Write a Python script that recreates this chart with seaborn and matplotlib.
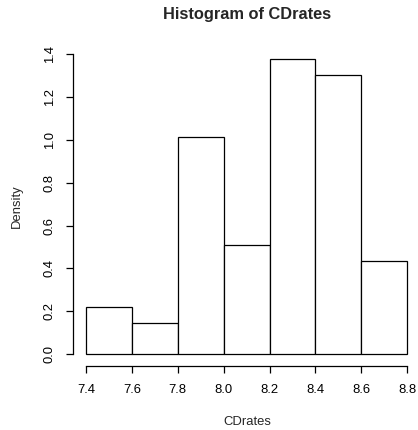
import matplotlib
matplotlib.use("Agg")
import matplotlib.pyplot as plt
import seaborn as sns
import numpy as np

# Histogram bins of CDrates (n = 69) and counts per bin
bin_edges = [7.4, 7.6, 7.8, 8.0, 8.2, 8.4, 8.6, 8.8]
bin_counts = [3, 2, 14, 7, 19, 18, 6]
x_ticks = [7.4, 7.6, 7.8, 8.0, 8.2, 8.4, 8.6, 8.8]
y_ticks = [0.0, 0.2, 0.4, 0.6, 0.8, 1.0, 1.2, 1.4]

sns.set_style("white")
plt.rcParams["font.family"] = ["Liberation Sans", "DejaVu Sans"]

W, H = 418, 430
fig = plt.figure(figsize=(W / 100, H / 100), dpi=100)

# axes placed in pixel terms to mimic R's plot region
left_px, right_px = 73.1, 415.0
top_px, bottom_px = 47.4, 365.8
ax = fig.add_axes([left_px / W, 1 - bottom_px / H,
                   (right_px - left_px) / W, (bottom_px - top_px) / H])

mids = [(a + b) / 2 for a, b in zip(bin_edges[:-1], bin_edges[1:])]
sns.histplot(x=mids, weights=bin_counts, bins=bin_edges, stat="density",
             color="white", edgecolor="black", linewidth=0.9, alpha=1,
             ax=ax)

ax.set_xlim(7.344, 7.344 + (right_px - left_px) / 229.5)
ax.set_ylim(-0.055, 1.432)

ax.set_xticks(x_ticks)
ax.set_xticklabels([f"{v:.1f}" for v in x_ticks])
ax.set_yticks(y_ticks)
ax.set_yticklabels([f"{v:.1f}" for v in y_ticks], rotation=90, va="center")

for s in ["top", "right"]:
    ax.spines[s].set_visible(False)
ax.spines["left"].set_bounds(0, 1.4)
ax.spines["bottom"].set_bounds(7.4, 8.8)
for s in ["left", "bottom"]:
    ax.spines[s].set_color("black")
    ax.spines[s].set_linewidth(0.9)

ax.tick_params(axis="both", direction="out", length=5, width=0.9,
               color="black", labelsize=9.4, labelcolor="black")
ax.tick_params(axis="x", pad=8, bottom=True)
ax.tick_params(axis="y", pad=7.5, left=True)

ax.set_xlabel("")
ax.set_ylabel("")
fig.text(247 / W, 1 - 422 / H, "CDrates", ha="center", va="center",
         fontsize=9.4)
fig.text(17 / W, 1 - 206 / H, "Density", ha="center", va="center",
         rotation=90, fontsize=9.4)
fig.text(247 / W, 1 - 15 / H, "Histogram of CDrates", ha="center",
         va="center", fontsize=11.8, fontweight="bold")

fig.savefig("out.png", dpi=100)
